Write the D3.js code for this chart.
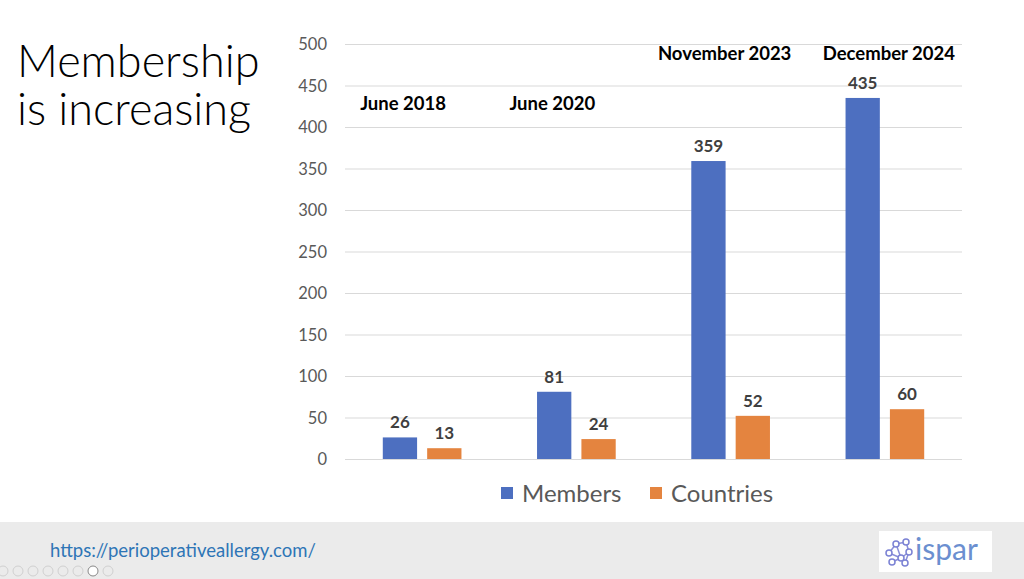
<!DOCTYPE html>
<html>
<head>
  <meta charset="utf-8">
  <title>Membership is increasing</title>
  <script src="https://d3js.org/d3.v7.min.js"></script>
  <style>
  body { margin: 0; background: #fff; }
  text { font-family: Lato, "Open Sans", sans-serif; }
  .grid line { stroke: #d9d9d9; stroke-width: 1px; }
  .grid path { stroke: none; }
  .yaxis text { fill: #595959; font-size: 16.5px; }
  .yaxis path, .yaxis line { stroke: none; }
  .value { fill: #3f3f3f; font-size: 17px; font-weight: bold; text-anchor: middle; }
  .period { fill: #000; font-size: 18.5px; font-weight: bold; text-anchor: middle; }
  .legend text { fill: #595959; font-size: 24px; }
  </style>
</head>
<body>
  <svg id="chart" width="1024" height="579"></svg>
  <script>
    // data
    const periods = ["June 2018", "June 2020", "November 2023", "December 2024"];
    const series = ["Members", "Countries"];
    const members = [26, 81, 359, 435];
    const countries = [13, 24, 52, 60];
    const yTicks = [0, 50, 100, 150, 200, 250, 300, 350, 400, 450, 500];
    // where the period captions sit (value units on the y axis)
    const periodLabelY = [428, 428, 488, 488];
    const periodLabelShift = [-19, -24, -6, 4];

    const colors = { Members: "#4d6fc0", Countries: "#e4843f" };

    const svg = d3.select("#chart");
    const width = +svg.attr("width");
    const height = +svg.attr("height");

    // slide title
    const title = svg.append("text")
      .style("font-size", "45px").style("font-weight", 300).style("fill", "#000");
    title.append("tspan").attr("x", 17).attr("y", 77).text("Membership");
    title.append("tspan").attr("x", 17).attr("y", 125).text("is increasing");

    const margin = { top: 44, left: 345, right: 62, bottom: 120 };
    const x0 = d3.scaleBand().domain(periods)
      .range([margin.left, width - margin.right])
      .paddingInner(0.49).paddingOuter(0.245);
    const x1 = d3.scaleBand().domain(series)
      .range([0, x0.bandwidth()]).paddingInner(0.227);
    const y = d3.scaleLinear().domain([0, 500]).range([459, 44]);

    svg.append("g").attr("class", "grid")
      .attr("transform", "translate(" + margin.left + ",0)")
      .call(d3.axisLeft(y).tickValues(yTicks)
        .tickSize(-(width - margin.right - margin.left)).tickFormat(""));

    svg.append("g").attr("class", "yaxis")
      .attr("transform", "translate(" + (margin.left - 10) + ",0)")
      .call(d3.axisLeft(y).tickValues(yTicks).tickSize(0).tickPadding(8))
      .selectAll("text").attr("dy", "0.35em");

    const rows = periods.map((p, i) => ({ period: p, Members: members[i], Countries: countries[i], i: i }));

    const groups = svg.selectAll(".group").data(rows).enter()
      .append("g").attr("class", "group")
      .attr("transform", d => "translate(" + x0(d.period) + ",0)");

    groups.selectAll("rect")
      .data(d => series.map(s => ({ key: s, value: d[s] })))
      .enter().append("rect")
      .attr("x", d => x1(d.key))
      .attr("y", d => y(d.value))
      .attr("width", x1.bandwidth())
      .attr("height", d => y(0) - y(d.value))
      .attr("fill", d => colors[d.key]);

    groups.selectAll(".value")
      .data(d => series.map(s => ({ key: s, value: d[s] })))
      .enter().append("text").attr("class", "value")
      .attr("x", d => x1(d.key) + x1.bandwidth() / 2)
      .attr("y", d => y(d.value) - 9)
      .text(d => d.value);

    svg.selectAll(".period").data(rows).enter()
      .append("text").attr("class", "period")
      .attr("x", d => x0(d.period) + x0.bandwidth() / 2 + periodLabelShift[d.i])
      .attr("y", d => y(periodLabelY[d.i]) + 6)
      .text(d => d.period);

    // legend
    const legend = svg.append("g").attr("class", "legend");
    const legendX = [501, 650];
    series.forEach((s, i) => {
      legend.append("rect").attr("x", legendX[i]).attr("y", 487)
        .attr("width", 12).attr("height", 12).attr("fill", colors[s]);
      legend.append("text").attr("x", legendX[i] + 21).attr("y", 502).text(s);
    });

    // footer band
    svg.append("rect").attr("x", 0).attr("y", 522)
      .attr("width", width).attr("height", height - 522).attr("fill", "#ebebeb");
    svg.append("text").attr("x", 50).attr("y", 557)
      .style("font-size", "18.5px").style("fill", "#2e75b6")
      .text("https://perioperativeallergy.com/");

    // small slideshow toolbar
    const tb = svg.append("g").attr("fill", "none").attr("stroke", "#d0d0d0");
    d3.range(8).forEach(k => {
      tb.append("circle").attr("cx", 3 + k * 15).attr("cy", 571).attr("r", 5)
        .attr("stroke", k === 6 ? "#888" : "#d0d0d0")
        .attr("fill", k === 6 ? "#fff" : "none");
    });

    // logo
    const logo = svg.append("g").attr("transform", "translate(879,531)");
    logo.append("rect").attr("width", 113).attr("height", 41).attr("fill", "#fff");
    const nodes = [[10, 22], [17, 13], [27, 11], [30, 21], [22, 27], [13, 31], [26, 32]];
    const links = [[0, 1], [1, 2], [2, 3], [3, 4], [4, 0], [4, 5], [4, 6], [1, 4], [3, 6]];
    logo.selectAll("line").data(links).enter().append("line")
      .attr("x1", d => nodes[d[0]][0]).attr("y1", d => nodes[d[0]][1])
      .attr("x2", d => nodes[d[1]][0]).attr("y2", d => nodes[d[1]][1])
      .attr("stroke", "#8a8fd8").attr("stroke-width", 1.5);
    logo.selectAll("circle").data(nodes).enter().append("circle")
      .attr("cx", d => d[0]).attr("cy", d => d[1]).attr("r", 3)
      .attr("fill", "#fff").attr("stroke", "#7b82d4").attr("stroke-width", 1.5);
    logo.append("text").attr("x", 36).attr("y", 29)
      .style("font-size", "30px").style("fill", "#6b8fd0").text("ispar");
  </script>
</body>
</html>
